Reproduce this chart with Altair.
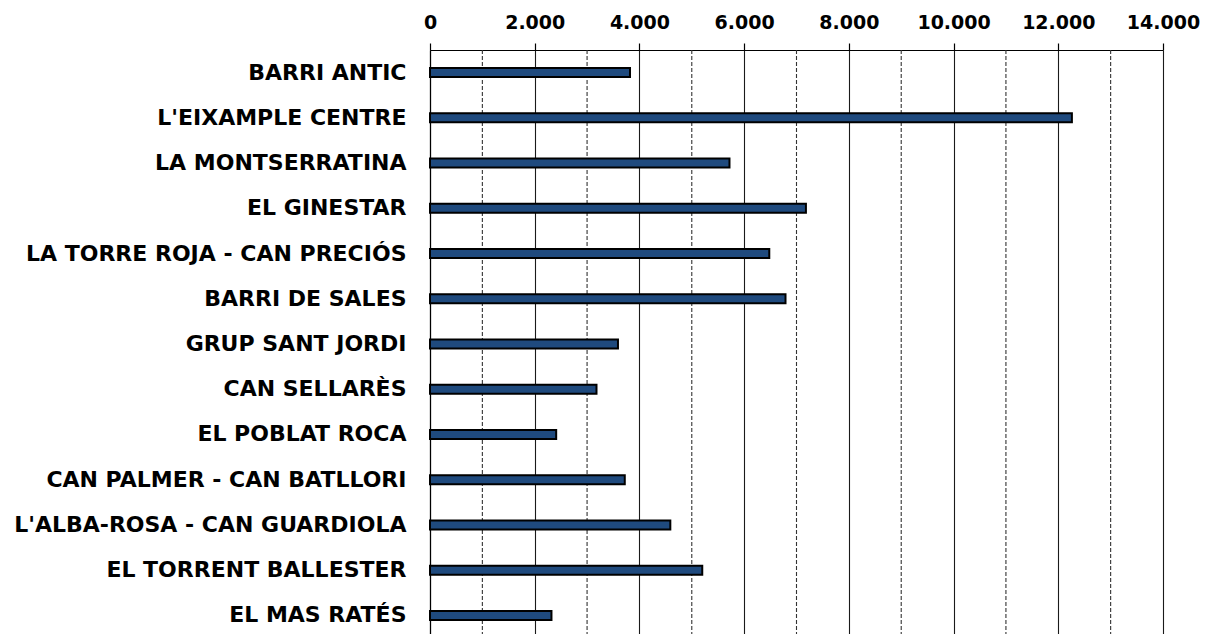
import altair as alt
import pandas as pd

barrios = [
    "BARRI ANTIC", "L'EIXAMPLE CENTRE", "LA MONTSERRATINA", "EL GINESTAR",
    "LA TORRE ROJA - CAN PRECIÓS", "BARRI DE SALES", "GRUP SANT JORDI",
    "CAN SELLARÈS", "EL POBLAT ROCA", "CAN PALMER - CAN BATLLORI",
    "L'ALBA-ROSA - CAN GUARDIOLA", "EL TORRENT BALLESTER", "EL MAS RATÉS",
]
valors = [3820, 12260, 5720, 7180, 6480, 6790, 3590, 3180, 2410, 3720, 4590, 5200, 2320]

tick_values = [0, 2000, 4000, 6000, 8000, 10000, 12000, 14000]
dashed_grid = [1000, 3000, 5000, 7000, 9000, 11000, 13000]

df = pd.DataFrame({"barri": barrios, "valor": valors})
grid_df = pd.DataFrame({"g": dashed_grid})

x_scale = alt.Scale(domain=[0, 14000], nice=False)
x_axis = alt.Axis(
    orient="top", values=tick_values, format=",.0f", title=None,
    labelExpr="replace(datum.label, ',', '.')",
    grid=True, gridColor="#1a1a1a", gridWidth=1.1, gridOpacity=1,
    domainColor="#000000", domainWidth=1.2,
    tickColor="#000000", tickSize=7, tickWidth=1.2,
    labelFont="DejaVu Sans", labelFontWeight="bold", labelFontSize=19,
    labelColor="#000000", labelPadding=11, labelFlush=False,
)

grid = alt.Chart(grid_df).mark_rule(color="#333333", strokeWidth=1.1, strokeDash=[4, 2]).encode(
    x=alt.X("g:Q", scale=x_scale, axis=x_axis, title=None)
)

bars = alt.Chart(df).mark_bar(
    color="#1F4A7E", stroke="#000000", strokeWidth=2, size=9
).encode(
    x=alt.X("valor:Q", scale=x_scale, axis=x_axis, title=None),
    y=alt.Y(
        "barri:N", sort=barrios, title=None,
        scale=alt.Scale(paddingInner=0, paddingOuter=0),
        axis=alt.Axis(
            ticks=False, domain=True, domainColor="#000000", domainWidth=1.2,
            labelFont="DejaVu Sans", labelFontWeight="bold", labelFontSize=22,
            labelColor="#000000", labelPadding=24, labelLimit=500,
        ),
    ),
)

chart = alt.layer(grid, bars).properties(
    width=733, height=588,
    autosize=alt.AutoSizeParams(type="none"),
    padding={"left": 422, "top": 42, "right": 40, "bottom": 0},
    background="white",
).configure_view(strokeWidth=0)

chart.save("out.html", embed_options={"renderer": "svg", "actions": False})
